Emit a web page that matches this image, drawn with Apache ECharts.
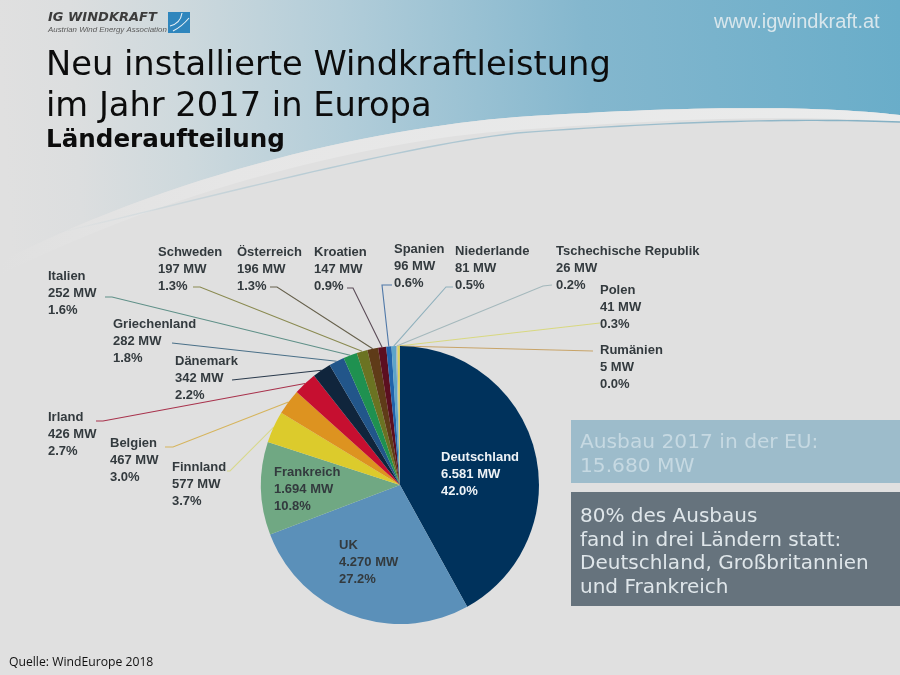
<!DOCTYPE html>
<html><head><meta charset="utf-8">
<style>html,body{margin:0;padding:0;background:#e0e0e0}#c{width:900px;height:675px}</style>
<script src="https://cdn.jsdelivr.net/npm/echarts@6/dist/echarts.min.js"></script>
</head><body><div id="c"></div>
<script>
const countries = ['Deutschland','UK','Frankreich','Finnland','Belgien','Irland','Dänemark','Griechenland','Italien','Schweden','Österreich','Kroatien','Spanien','Niederlande','Tschechische Republik','Polen','Rumänien'];
const megawatts = [6581,4270,1694,577,467,426,342,282,252,197,196,147,96,81,26,41,5];
const shares = ['42.0%','27.2%','10.8%','3.7%','3.0%','2.7%','2.2%','1.8%','1.6%','1.3%','1.3%','0.9%','0.6%','0.5%','0.2%','0.3%','0.0%'];
const sliceColors = ['#00325c','#5b90b9','#70a883','#dccb2c','#dd9320','#c60f30','#10253c','#22568a','#1f9150','#6b7322','#5f3b18','#5c0f20','#2063ab','#5da4ca','#a9b6ba','#d8d45c','#c8903c'];
const lineColors = ['','','','#d8d88c','#d6b45c','#a8324c','#2a3a4c','#4a7088','#5f9088','#8a8a50','#66604c','#5c4c58','#4f78a8','#8fb0bc','#a4b8bc','#d8d880','#c8a468'];
const labelPos = [[441,474],[339,562],[274,489],[172,484],[110,460],[48,434],[175,378],[113,341],[48,293],[158,269],[237,269],[314,269],[394,266],[455,268],[556,268],[600,307],[600,367]];
const lineBends = [null,null,null,[[230,471],[227,471]],[[173,447],[165,447]],[[103,421],[96,421]],[[232,380]],[[172,343]],[[112,297],[105,297]],[[200,287],[193,287]],[[277,287],[270,287]],[[353,288],[347,288]],[[382,285],[392,285]],[[446,287],[453,287]],[[543,286],[552,285]],[[600,323]],[[593,351]]];

const fmt = v => String(v).replace(/\B(?=(\d{3})+$)/g,'.');
// background swoosh helper: sample a chain of cubic segments
function curve(start, segs){
  const pts=[start]; let p=start;
  segs.forEach(s=>{
    for(let k=1;k<=30;k++){
      const t=k/30,u=1-t;
      pts.push([0,1].map(a=>u*u*u*p[a]+3*u*u*t*s[0][a]+3*u*t*t*s[1][a]+t*t*t*s[2][a]));
    }
    p=s[2];
  });
  return pts;
}
const edgeTop = curve([900,115],[[[820,106],[700,105],[517,117]],[[380,128],[180,170],[0,262]]]);
const edgeLow = curve([0,275],[[[170,190],[370,140],[517,130]],[[700,116],[820,116],[900,122]]]);
const thinLine = curve([900,122],[[[820,119],[700,119],[517,133]],[[400,146],[200,200],[57,233]]]);

const chart = echarts.init(document.getElementById('c'), null, {renderer:'canvas'});
const LG = echarts.graphic.LinearGradient;
const sky = new LG(0,.25,1,.05,[
  {offset:0,color:'#e0e0e0'},{offset:.08,color:'#dcdedf'},{offset:.2,color:'#ced9dd'},{offset:.38,color:'#b2cdd9'},{offset:.65,color:'#84b7ce'},{offset:1,color:'#69adc9'}]);
const band = new LG(0,0,1,0,[{offset:0,color:'#e0e0e0'},{offset:.25,color:'#e6e6e6'},{offset:1,color:'#ebecec'}]);
const thread = new LG(0,0,1,0,[{offset:0,color:'rgba(168,196,208,0)'},{offset:.3,color:'rgba(168,196,208,.7)'},{offset:1,color:'rgba(130,175,195,1)'}]);
const SANS = 'DejaVu Sans';
const LAB = 'Liberation Sans';
chart.setOption({
  animation:false,
  backgroundColor:'#e0e0e0',
  title:[
    {text:'Neu installierte Windkraftleistung\nim Jahr 2017 in Europa',left:46,top:46,padding:0,
     textStyle:{fontFamily:SANS,fontSize:33.7,fontWeight:'normal',color:'#0c0c0c',lineHeight:41}},
    {text:'Länderaufteilung',left:46,top:128,padding:0,textStyle:{fontFamily:SANS,fontSize:24.6,fontWeight:'bold',color:'#0c0c0c'}},
    {text:'www.igwindkraft.at',left:714,top:12,padding:0,textStyle:{fontFamily:LAB,fontSize:20,fontWeight:'normal',color:'#d8e6ec'}},
    {text:'Quelle: WindEurope 2018',left:9,top:657,padding:0,textStyle:{fontFamily:'Open Sans',fontSize:12.2,fontWeight:'normal',color:'#111'}}
  ],
  graphic:[
    {type:'polygon',z:-10,silent:true,shape:{points:[[0,0],[900,0],...edgeTop,[0,262]]},style:{fill:sky}},
    {type:'polygon',z:-9,silent:true,shape:{points:[...edgeTop,...edgeLow]},style:{fill:band}},
    {type:'polyline',z:-8,silent:true,shape:{points:thinLine},style:{fill:'none',stroke:thread,lineWidth:1.4}},
    {type:'text',z:5,silent:true,style:{x:48,y:11,text:'IG WINDKRAFT',fontFamily:SANS,fontStyle:'italic',fontWeight:'bold',fontSize:13,fill:'#3c3c3c'}},
    {type:'text',z:5,silent:true,style:{x:48,y:26,text:'Austrian Wind Energy Association',fontFamily:LAB,fontStyle:'italic',fontSize:7.9,fill:'#5a5a5a'}},
    {type:'rect',z:5,silent:true,shape:{x:168,y:12,width:22,height:21},style:{fill:'#2f86bd'}},
    {type:'bezierCurve',z:6,silent:true,shape:{x1:182,y1:13,cpx1:181,cpy1:20,cpx2:178,cpy2:24,x2:170,y2:26},style:{fill:'none',stroke:'#e8f1f6',lineWidth:1.1}},
    {type:'bezierCurve',z:6,silent:true,shape:{x1:189,y1:18,cpx1:184,cpy1:24,cpx2:181,cpy2:27,x2:173,y2:31},style:{fill:'none',stroke:'#e8f1f6',lineWidth:1.1}},
    {type:'rect',z:5,silent:true,shape:{x:571,y:420,width:329,height:63},style:{fill:'#9dbccb'}},
    {type:'rect',z:5,silent:true,shape:{x:571,y:492,width:329,height:114},style:{fill:'#66737d'}},
    {type:'text',z:6,silent:true,style:{x:580,y:431,text:'Ausbau 2017 in der EU:\n15.680 MW',fontFamily:SANS,fontSize:20.2,lineHeight:24,fill:'#c6d9e2'}},
    {type:'text',z:6,silent:true,style:{x:580,y:505,text:'80% des Ausbaus\nfand in drei Ländern statt:\nDeutschland, Großbritannien\nund Frankreich',fontFamily:SANS,fontSize:20,lineHeight:23.7,fill:'#dfe6ea'}}
  ],
  series:[{
    type:'pie',
    center:[400,485],radius:[0,139],
    startAngle:90,clockwise:true,
    avoidLabelOverlap:false,
    data:countries.map((name,i)=>({
      name,value:megawatts[i],
      itemStyle:{color:sliceColors[i]},
      labelLine:{show:!!lineBends[i],lineStyle:{color:lineColors[i]||'#888',width:1.1}},
      label:{color:i===0?'#eef3f7':'#333a3e'}
    })),
    label:{show:true,position:'outside',alignTo:'none',
      fontFamily:LAB,fontWeight:'bold',fontSize:13,lineHeight:17,
      formatter:p=>p.name+'\n'+fmt(p.value)+' MW\n'+shares[p.dataIndex]},
    labelLine:{show:true,length:10,length2:10,smooth:false},
    labelLayout:p=>{
      const i=p.dataIndex;
      const out={x:labelPos[i][0],y:labelPos[i][1],align:'left',verticalAlign:'middle',hideOverlap:false};
      if(lineBends[i]&&p.labelLinePoints) out.labelLinePoints=[p.labelLinePoints[0],...lineBends[i]];
      return out;
    }
  }]
});
</script></body></html>
